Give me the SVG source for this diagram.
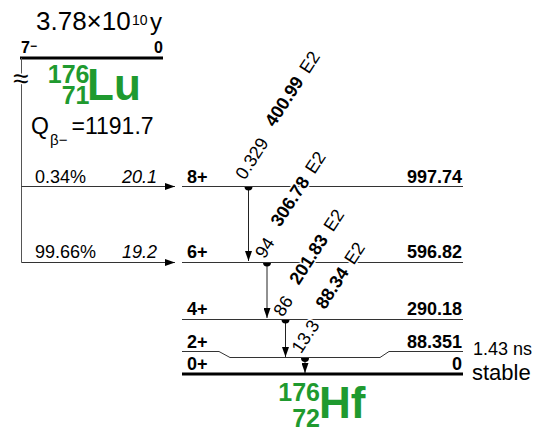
<svg xmlns="http://www.w3.org/2000/svg" width="546" height="437" viewBox="0 0 546 437">
<style>
text{font-family:"Liberation Sans",Arial,Helvetica,sans-serif;fill:#000}
.lvl{stroke:#333;stroke-width:1;fill:none}
.thick{stroke:#000;stroke-width:3;fill:none}
.gam{stroke:#222;stroke-width:1;fill:none}
.t18{font-size:18px}
.b{font-weight:bold}
.it{font-style:italic}
.end{text-anchor:end}
.green{fill:#1f9a2f;font-weight:bold}
.halo{paint-order:stroke;stroke:#fff;stroke-width:3;stroke-linejoin:round}
</style>
<defs>
<marker id="ah" markerWidth="10" markerHeight="7" refX="10" refY="3.5" orient="auto" markerUnits="userSpaceOnUse">
<path d="M0,0 L10,3.5 L0,7 Z" fill="#000"/>
</marker>
</defs>

<g id="parent">
<text x="36" y="29.5" font-size="26">3.78×10</text>
<text x="132" y="25" font-size="14">10</text>
<text x="150" y="29.5" font-size="24">y</text>
<text x="21" y="53" font-size="16" class="b">7<tspan font-size="12" dy="-3">−</tspan></text>
<text x="163" y="53" font-size="16" class="b end">0</text>
<line x1="20" y1="58" x2="163" y2="58" class="thick"/>
<text x="89.5" y="82.5" font-size="25" class="green end">176</text>
<text x="89.5" y="104" font-size="25" class="green end">71</text>
<text x="87" y="100" font-size="44" class="green">Lu</text>
<text x="31" y="134" font-size="23">Q</text>
<text x="50" y="145" font-size="15">β−</text>
<text x="71.5" y="134" font-size="23">=1191.7</text>
</g>

<g id="connectors">
<line x1="21.5" y1="58" x2="21.5" y2="262.5" stroke="#555" stroke-width="1"/>
<line x1="21.5" y1="186.5" x2="175" y2="186.5" stroke="#333" stroke-width="1" marker-end="url(#ah)"/>
<line x1="21.5" y1="262.5" x2="175" y2="262.5" stroke="#333" stroke-width="1" marker-end="url(#ah)"/>
<line x1="248.5" y1="186" x2="248.5" y2="261" class="gam" marker-end="url(#ah)"/>
<line x1="267" y1="262" x2="267" y2="318" class="gam" marker-end="url(#ah)"/>
<line x1="285.5" y1="319" x2="285.5" y2="357" class="gam" marker-end="url(#ah)"/>
<line x1="305" y1="358" x2="305" y2="373" class="gam" marker-end="url(#ah)"/>
<path d="M244.5,186.5 A4,4 0 0 0 252.5,186.5 Z" fill="#000"/>
<path d="M263,262.5 A4,4 0 0 0 271,262.5 Z" fill="#000"/>
<path d="M281.5,319.5 A4,4 0 0 0 289.5,319.5 Z" fill="#000"/>
<path d="M301,358 A4,4 0 0 0 309,358 Z" fill="#000"/>
</g>

<g id="branch-labels" class="t18">
<text x="35" y="182.5">0.34%</text>
<text x="157" y="182.5" class="it end">20.1</text>
<text x="35" y="258">99.66%</text>
<text x="157" y="258" class="it end">19.2</text>
</g>

<g id="level-8">
<line x1="182" y1="186.5" x2="463" y2="186.5" class="lvl"/>
<text x="187" y="182.5" class="t18 b">8+</text>
<text x="462" y="182.5" class="t18 b end">997.74</text>
</g>
<g id="level-6">
<line x1="182" y1="262.5" x2="463" y2="262.5" class="lvl"/>
<text x="187" y="258" class="t18 b">6+</text>
<text x="462" y="258" class="t18 b end">596.82</text>
</g>
<g id="level-4">
<line x1="182" y1="319.5" x2="463" y2="319.5" class="lvl"/>
<text x="187" y="315" class="t18 b">4+</text>
<text x="462" y="315" class="t18 b end">290.18</text>
</g>
<g id="level-2">
<path d="M182,351.5 H219 L230,357.5 H380 L389,351.5 H463" class="lvl"/>
<text x="187" y="347.5" class="t18 b">2+</text>
<text x="462" y="347.5" class="t18 b end">88.351</text>
<text x="473" y="355" class="t18">1.43 ns</text>
</g>
<g id="level-0">
<line x1="182" y1="374" x2="463" y2="374" class="thick"/>
<text x="187" y="370" class="t18 b">0+</text>
<text x="462" y="370" class="t18 b end">0</text>
<text x="472" y="380" font-size="22">stable</text>
<text x="320" y="401" font-size="25" class="green end">176</text>
<text x="320" y="427" font-size="25" class="green end">72</text>
<text x="319" y="418" font-size="44" class="green">Hf</text>
</g>

<g id="gamma-labels" class="t18">
<text transform="translate(244.7,180.7) rotate(-57)" class="halo">0.329<tspan dx="15.5" dy="-4" class="b">400.99</tspan><tspan dx="8">E2</tspan></text>
<text transform="translate(264.4,259.4) rotate(-57)" class="halo">94<tspan dx="15" dy="-4" class="b">306.78</tspan><tspan dx="8">E2</tspan></text>
<text transform="translate(282.7,317.7) rotate(-57)" class="halo">86<tspan dx="15.5" dy="-4" class="b">201.83</tspan><tspan dx="8">E2</tspan></text>
<text transform="translate(301,354.4) rotate(-57)" class="halo">13.3<tspan dx="15" dy="-4" class="b">88.34</tspan><tspan dx="8">E2</tspan></text>
</g>

<text x="13" y="88" font-size="28" class="halo">≈</text>
</svg>
